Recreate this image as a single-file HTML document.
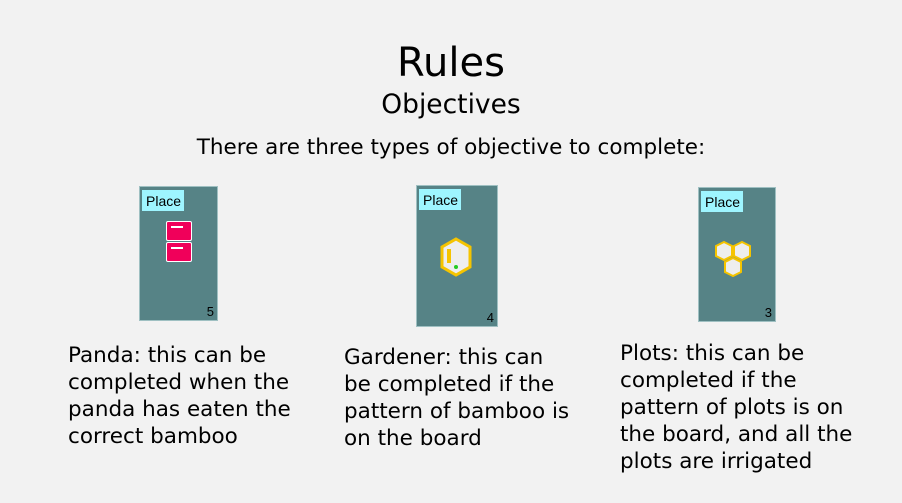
<!DOCTYPE html>
<html><head><meta charset="utf-8"><style>
body{margin:0;width:902px;height:503px;background:#f2f2f2;font-family:"DejaVu Sans","Liberation Sans",sans-serif;position:relative;overflow:hidden;color:#000}
.a{position:absolute;white-space:nowrap}
.card{position:absolute;background:#568386;border:1px solid #9fc0c2}
.pl{position:absolute;left:2px;top:3px;background:#9ef5ff;font-size:14px;font-family:"Liberation Sans",sans-serif;padding:4px 2px 3px 4px;width:36px;height:14px;line-height:14px}
.n{position:absolute;right:3px;bottom:1px;font-size:13px;font-family:"Liberation Sans",sans-serif}
.t{position:absolute;font-size:21.5px;line-height:27px;white-space:nowrap}
</style></head><body>
<div class="a" style="left:0;width:902px;text-align:center;top:40px;font-size:40px">Rules</div>
<div class="a" style="left:0;width:902px;text-align:center;top:89px;font-size:26.5px">Objectives</div>
<div class="a" style="left:0;width:902px;text-align:center;top:135px;font-size:21.5px">There are three types of objective to complete:</div>

<div class="card" style="left:139px;top:186px;width:77px;height:133px">
<div class="pl">Place</div>
<div style="position:absolute;left:26px;top:34px;width:24px;height:18px;background:#f0005a;border:1px solid #fff;border-radius:2px"><div style="margin:4px 4px;height:2px;background:#fff;width:12px"></div></div>
<div style="position:absolute;left:26px;top:55px;width:24px;height:18px;background:#f0005a;border:1px solid #fff;border-radius:2px"><div style="margin:4px 4px;height:2px;background:#fff;width:12px"></div></div>
<div class="n">5</div></div>

<div class="card" style="left:416px;top:185px;width:80px;height:140px">
<div class="pl">Place</div>
<svg style="position:absolute;left:22px;top:51px" width="34" height="40"><polygon points="17,2 31,10 31,30 17,38 3,30 3,10" fill="#eee" stroke="#f5c400" stroke-width="3"/><rect x="8" y="12" width="4" height="14" fill="#f5c400"/><circle cx="17" cy="30" r="2" fill="#2c2"/></svg>
<div class="n">4</div></div>

<div class="card" style="left:698px;top:187px;width:76px;height:133px">
<div class="pl">Place</div>
<svg style="position:absolute;left:15px;top:52px" width="40" height="44"><g fill="#eee" stroke="#f5c400" stroke-width="2"><polygon points="10,2 18,6 18,16 10,20 2,16 2,6"/><polygon points="28,2 36,6 36,16 28,20 20,16 20,6"/><polygon points="19,18 27,22 27,32 19,36 11,32 11,22"/></g></svg>
<div class="n">3</div></div>

<div class="t" style="left:68px;top:342px">Panda: this can be<br>completed when the<br>panda has eaten the<br>correct bamboo</div>
<div class="t" style="left:344px;top:344px">Gardener: this can<br>be completed if the<br>pattern of bamboo is<br>on the board</div>
<div class="t" style="left:620px;top:340px">Plots: this can be<br>completed if the<br>pattern of plots is on<br>the board, and all the<br>plots are irrigated</div>
</body></html>
